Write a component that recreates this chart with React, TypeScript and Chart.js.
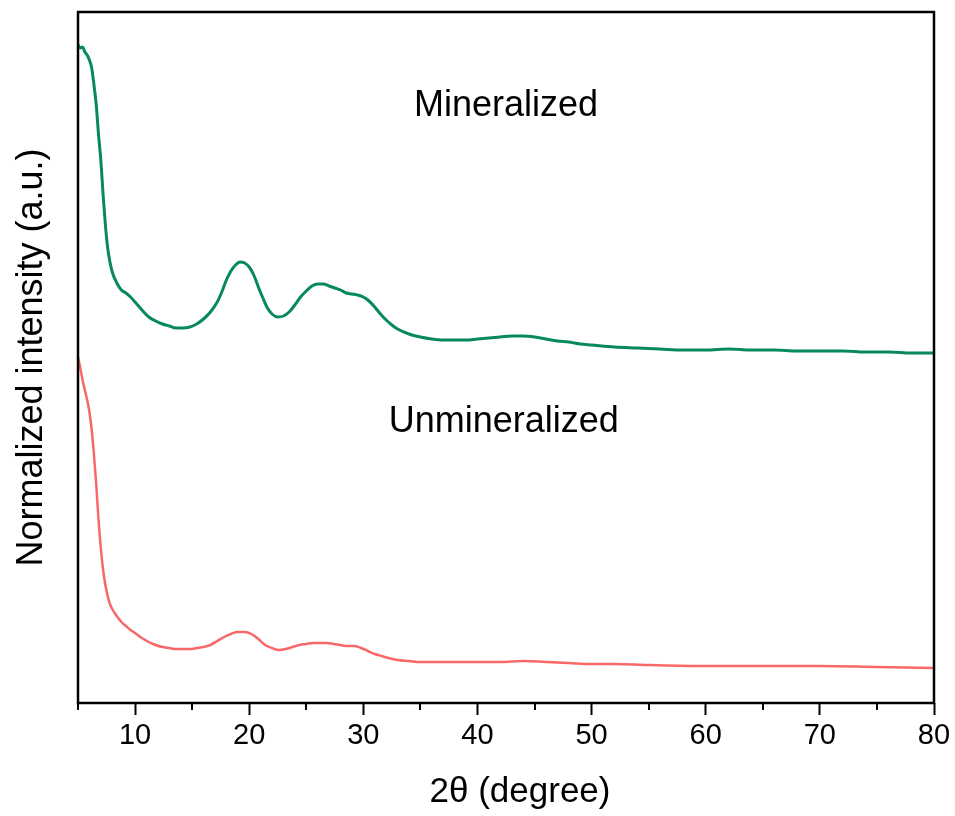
import React, { useEffect, useRef } from "react";
import { Chart, registerables } from "chart.js";

Chart.register(...registerables);

// 2θ positions (degree) and normalized intensities (a.u.)
const mineralizedX = [
  5.0, 5.2, 5.4, 5.6, 5.8, 6.0, 6.2, 6.4, 6.6, 6.8, 7.0, 7.2, 7.4, 7.6, 7.8, 8.0, 8.4, 8.8, 9.2, 9.6,
  10.0, 10.6, 11.2, 11.8, 12.4, 13.0, 13.6, 14.2, 14.8, 15.4, 16.0, 16.6, 17.2, 17.6, 18.0, 18.4, 18.8,
  19.2, 19.6, 20.0, 20.4, 20.8, 21.2, 21.6, 22.0, 22.5, 23.0, 23.5, 24.0, 24.5, 25.0, 25.5, 26.0, 26.5,
  27.0, 27.5, 28.0, 28.5, 29.0, 29.5, 30.0, 30.5, 31.0, 31.5, 32.0, 32.5, 33.0, 34.0, 35.0, 36.0, 37.0,
  38.0, 39.0, 40.0, 41.0, 42.0, 43.0, 44.0, 45.0, 46.0, 47.0, 48.0, 49.0, 50.0, 52.0, 54.0, 56.0, 58.0,
  60.0, 62.0, 64.0, 66.0, 68.0, 70.0, 72.0, 74.0, 76.0, 78.0, 80.0,
];
const mineralizedY = [
  658, 655, 656, 651, 648, 643, 635, 618, 598, 568, 543, 508, 478, 455, 441, 431, 420, 413, 410, 406,
  401, 393, 386, 382, 379, 377, 375, 375, 376, 379, 384, 391, 401, 411, 423, 432, 438,
  441, 440, 436, 428, 416, 405, 395, 389, 386, 387, 391, 398, 406, 412, 417, 419, 419,
  417, 415, 413, 410, 409, 408, 406, 402, 396, 389, 383, 378, 374, 369, 366, 364, 363,
  363, 363, 364, 365, 366, 367, 367, 366, 364, 362, 361, 359, 358, 356, 355, 354, 353,
  353, 354, 353, 353, 352, 352, 352, 351, 351, 350, 350,
];

const unmineralizedX = [
  5.0, 5.2, 5.4, 5.6, 5.8, 6.0, 6.2, 6.4, 6.6, 6.8, 7.0, 7.2, 7.4, 7.6, 7.8, 8.0, 8.4, 8.8, 9.2, 9.6,
  10.0, 10.6, 11.2, 11.8, 12.4, 13.0, 13.6, 14.2, 14.8, 15.4, 16.0, 16.6, 17.2, 17.8, 18.4, 19.0, 19.6,
  20.2, 20.8, 21.4, 22.0, 22.6, 23.2, 23.8, 24.4, 25.0, 25.6, 26.2, 26.8, 27.4, 28.0, 28.6, 29.2, 29.8,
  30.4, 31.0, 31.6, 32.2, 33.0, 34.0, 35.0, 36.0, 37.0, 38.0, 40.0, 42.0, 44.0, 46.0, 48.0, 50.0, 52.0,
  55.0, 60.0, 65.0, 70.0, 75.0, 80.0,
];
const unmineralizedY = [
  346, 335, 323, 313, 303, 291, 273, 248, 218, 183, 155, 133, 118, 107, 99, 94, 87, 81, 77, 73,
  70, 65, 61, 58, 56, 55, 54, 54, 54, 55, 56, 58, 62, 66, 69, 71, 71,
  69, 64, 58, 55, 53, 54, 56, 58, 59, 60, 60, 60, 59, 58, 57, 57, 55,
  52, 49, 47, 45, 43, 42, 41, 41, 41, 41, 41, 41, 42, 41, 40, 39, 39,
  38, 37, 37, 37, 36, 35,
];

const xTickValues = [10, 20, 30, 40, 50, 60, 70, 80];
const xMinorTickValues = [5, 15, 25, 35, 45, 55, 65, 75];

const labelMineralized = { text: "Mineralized", x: 42.5, y: 597 };
const labelUnmineralized = { text: "Unmineralized", x: 42.3, y: 281 };
const xTitle = "2θ (degree)";
const yTitle = "Normalized intensity (a.u.)";

const FONT = "'Liberation Sans', Arial, Helvetica, sans-serif";

export default function App() {
  const ref = useRef<HTMLCanvasElement | null>(null);

  useEffect(() => {
    document.body.style.margin = "0";
    document.body.style.background = "#ffffff";
    const canvas = ref.current;
    if (!canvas) return;

    const framePlugin = {
      id: "frameAndLabels",
      afterDraw(chart: any) {
        const { ctx, chartArea, scales } = chart;
        const xs = scales.x;
        const ys = scales.y;
        ctx.save();
        // minor ticks
        ctx.strokeStyle = "#000";
        ctx.lineWidth = 2;
        xMinorTickValues.forEach((v) => {
          const px = Math.round(xs.getPixelForValue(v));
          ctx.beginPath();
          ctx.moveTo(px, chartArea.bottom);
          ctx.lineTo(px, chartArea.bottom + 7);
          ctx.stroke();
        });
        // frame
        ctx.lineWidth = 2.5;
        ctx.strokeRect(chartArea.left, chartArea.top, chartArea.right - chartArea.left, chartArea.bottom - chartArea.top);
        // annotations
        ctx.fillStyle = "#000";
        ctx.font = `36px ${FONT}`;
        ctx.textAlign = "center";
        ctx.textBaseline = "middle";
        [labelMineralized, labelUnmineralized].forEach((l) => {
          ctx.fillText(l.text, xs.getPixelForValue(l.x), ys.getPixelForValue(l.y));
        });
        // x axis title
        ctx.font = `35px ${FONT}`;
        ctx.fillText(xTitle, (chartArea.left + chartArea.right) / 2 + 14, chartArea.bottom + 89);
        ctx.restore();
      },
    };

    const chart = new Chart(canvas, {
      type: "line",
      data: {
        datasets: [
          {
            label: "Mineralized",
            data: mineralizedX.map((x, i) => ({ x, y: mineralizedY[i] })),
            borderColor: "#078a5a",
            borderWidth: 3,
            pointRadius: 0,
            tension: 0.3,
            cubicInterpolationMode: "monotone",
            fill: false,
          },
          {
            label: "Unmineralized",
            data: unmineralizedX.map((x, i) => ({ x, y: unmineralizedY[i] })),
            borderColor: "#f86868",
            borderWidth: 2.5,
            pointRadius: 0,
            tension: 0.3,
            cubicInterpolationMode: "monotone",
            fill: false,
          },
        ],
      },
      options: {
        animation: false,
        responsive: false,
        maintainAspectRatio: false,
        layout: { padding: { left: 0, top: 12, right: 21, bottom: 0 } },
        plugins: { legend: { display: false }, tooltip: { enabled: false } },
        scales: {
          x: {
            type: "linear",
            min: 5,
            max: 80,
            afterFit: (s: any) => {
              s.height = 113;
            },
            afterBuildTicks: (s: any) => {
              s.ticks = xTickValues.map((v) => ({ value: v }));
            },
            ticks: {
              color: "#000",
              font: { family: FONT, size: 29 },
              padding: 4,
              maxRotation: 0,
              autoSkip: false,
            },
            grid: {
              display: true,
              drawOnChartArea: false,
              drawTicks: true,
              tickLength: 12,
              tickWidth: 2,
              tickColor: "#000",
            },
            border: { display: false },
            title: { display: false },
          },
          y: {
            type: "linear",
            min: 0,
            max: 691,
            afterFit: (s: any) => {
              s.width = 78;
            },
            ticks: { display: false },
            grid: { display: false },
            border: { display: false },
            title: {
              display: true,
              text: yTitle,
              color: "#000",
              font: { family: FONT, size: 36 },
              padding: { top: 10, bottom: 0 },
            },
          },
        },
      },
      plugins: [framePlugin],
    });

    return () => chart.destroy();
  }, []);

  return (
    <div style={{ position: "absolute", left: 0, top: 0, width: 955, height: 816, background: "#fff" }}>
      <canvas ref={ref} width={955} height={816} style={{ display: "block", width: 955, height: 816 }} />
    </div>
  );
}
